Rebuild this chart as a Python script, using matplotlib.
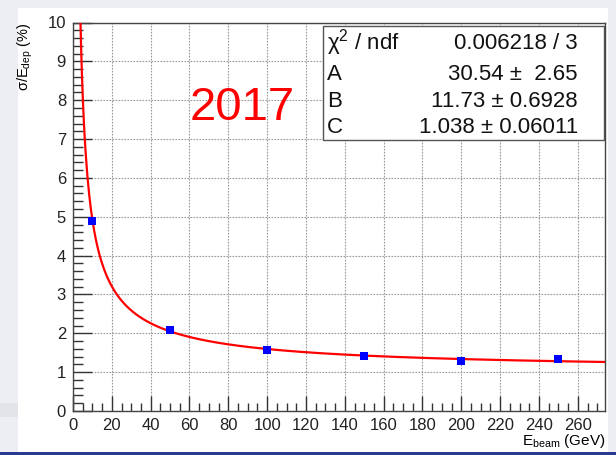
import numpy as np
import matplotlib
matplotlib.use("Agg")
import matplotlib.pyplot as plt
from matplotlib.patches import Rectangle
from matplotlib.ticker import MultipleLocator

plt.rcParams['font.family'] = ['Liberation Sans', 'DejaVu Sans']
plt.rcParams['mathtext.fontset'] = 'custom'
plt.rcParams['mathtext.rm'] = 'Liberation Sans'
plt.rcParams['mathtext.it'] = 'Liberation Sans:italic'
plt.rcParams['mathtext.bf'] = 'Liberation Sans:bold'

# beam energy scan, 2017
energy = [10, 50, 100, 150, 200, 250]          # GeV
resolution = [4.90, 2.08, 1.575, 1.42, 1.28, 1.33]  # sigma/E_dep in %

# fit sqrt((A/E)^2 + (B/sqrt(E))^2 + C^2)
par_names = ["A", "B", "C"]
par_vals = [30.54, 11.73, 1.038]
par_errs = ["2.65", "0.6928", "0.06011"]
chi2_ndf = "0.006218 / 3"


def reso(e, a, b, c):
    return np.sqrt((a / e) ** 2 + (b / np.sqrt(e)) ** 2 + c ** 2)


fig = plt.figure(figsize=(6.16, 4.55), dpi=100)
fig.patch.set_facecolor('#eceef3')
# white pad + blue bar at the bottom
fig.add_artist(Rectangle((18 / 616, 1 - 452 / 455), 590 / 616, 444 / 455,
                         transform=fig.transFigure, facecolor='white',
                         edgecolor='none', zorder=0))
fig.add_artist(Rectangle((0, 0), 1, 3 / 455, transform=fig.transFigure,
                         facecolor='#2b3990', edgecolor='none', zorder=0))
fig.add_artist(Rectangle((0, 1 - 417 / 455), 18 / 616, 14 / 455,
                         transform=fig.transFigure, facecolor='#e2e4e8',
                         edgecolor='none', zorder=0))

ax = fig.add_axes([73 / 616, 1 - 411 / 455, 532 / 616, 388.5 / 455])
ax.set_facecolor('white')

ax.set_xlim(0, 274)
ax.set_ylim(0, 10)

ax.xaxis.set_major_locator(MultipleLocator(20))
ax.xaxis.set_minor_locator(MultipleLocator(5))
ax.yaxis.set_major_locator(MultipleLocator(1))
ax.yaxis.set_minor_locator(MultipleLocator(0.2))

ax.tick_params(axis='both', which='both', direction='in', top=False,
               right=False, colors='#333333', labelcolor='#222222',
               labelsize=12, width=1)
ax.tick_params(axis='x', which='major', length=11, pad=5)
ax.tick_params(axis='x', which='minor', length=6)
ax.tick_params(axis='y', which='major', length=14, pad=5)
ax.tick_params(axis='y', which='minor', length=7)

for sp in ax.spines.values():
    sp.set_color('#444444')
    sp.set_linewidth(1)

ax.grid(True, which='major', linestyle=(0, (1.5, 1.2)), color='#9a9a9a',
        linewidth=0.8)
ax.set_axisbelow(True)

e_fine = np.linspace(1, 274, 600)
ax.plot(e_fine, reso(e_fine, *par_vals), color='#ff0000', lw=1.6, zorder=3)
ax.plot(energy, resolution, linestyle='none', marker='s', markersize=5.5,
        color='#0000ff', markeredgewidth=0, zorder=4)

ax.set_ylabel('σ/E$_{\\rm dep}$ (%)', fontsize=10.5, loc='top')
ax.yaxis.set_label_coords(-0.071, 1.0)
ax.set_xlabel('E$_{\\rm beam}$ (GeV)', fontsize=11, loc='right')
ax.xaxis.set_label_coords(1.0, -0.055)

ax.text(0.318, 0.749, '2017', transform=ax.transAxes, color='#ff0000',
        fontsize=34, ha='center', va='baseline', zorder=5)

# stats box
box = Rectangle((0.4694, 0.6975), 0.5286, 0.2943, transform=ax.transAxes,
                facecolor='white', edgecolor='#555555', lw=1, zorder=6)
ax.add_patch(box)
rows_y = [0.931, 0.852, 0.783, 0.715]
labels = ['χ$^{2}$ / ndf'] + par_names
values = [chi2_ndf] + ['%.4g ± %s' % (v, e) for v, e in zip(par_vals, par_errs)]
values[1] = '30.54 ±  2.65'
for y, lab, val in zip(rows_y, labels, values):
    ax.text(0.477, y, lab, transform=ax.transAxes, fontsize=16, ha='left',
            va='baseline', color='#111111', zorder=7)
    ax.text(0.949, y, val, transform=ax.transAxes, fontsize=16, ha='right',
            va='baseline', color='#111111', zorder=7)

fig.savefig('out.png', dpi=100, facecolor=fig.get_facecolor())
